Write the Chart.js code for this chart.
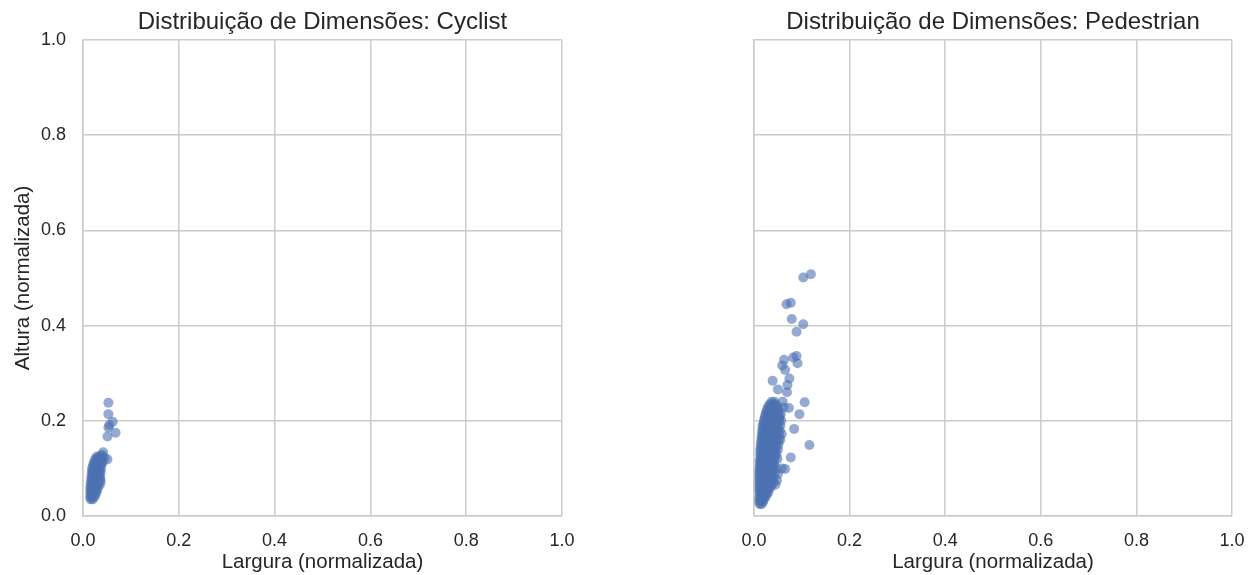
<!DOCTYPE html>
<html>
<head>
<meta charset="utf-8">
<script src="https://cdn.jsdelivr.net/npm/chart.js@4.4.0/dist/chart.umd.min.js"></script>
<style>
  html, body { margin: 0; padding: 0; background: #ffffff; }
  #wrap { position: relative; width: 1255px; height: 575px; }
  .panel { position: absolute; top: 0; }
  #left { left: 0; }
  #right { left: 670px; }
</style>
</head>
<body>
<div id="wrap">
  <div class="panel" id="left"><canvas id="c1" width="600" height="575"></canvas></div>
  <div class="panel" id="right"><canvas id="c2" width="585" height="575"></canvas></div>
</div>
<script>
// Axis ticks shared by both panels
const tickValues = [0.0, 0.2, 0.4, 0.6, 0.8, 1.0];
const classNames = ['Cyclist', 'Pedestrian'];
const xAxisLabel = 'Largura (normalizada)';
const yAxisLabel = 'Altura (normalizada)';
const titlePrefix = 'Distribuição de Dimensões: ';

// [width, height] of each normalized bounding box — Cyclist
const cyclistPoints = [
  [0.053,0.238],[0.053,0.214],[0.062,0.198],[0.055,0.191],[0.053,0.186],[0.068,0.175],[0.051,0.167],
  [0.042,0.134],[0.051,0.119],[0.040,0.128],[0.045,0.122],
  [0.016,0.035],[0.020,0.035],
  [0.015,0.040],[0.019,0.040],[0.024,0.040],
  [0.016,0.045],[0.021,0.045],[0.026,0.045],
  [0.015,0.050],[0.019,0.050],[0.023,0.050],[0.028,0.050],
  [0.016,0.055],[0.020,0.055],[0.025,0.055],[0.030,0.055],
  [0.015,0.060],[0.019,0.060],[0.024,0.060],[0.029,0.060],
  [0.017,0.065],[0.021,0.065],[0.026,0.065],[0.031,0.065],[0.035,0.065],
  [0.016,0.070],[0.020,0.070],[0.025,0.070],[0.030,0.070],[0.037,0.072],
  [0.018,0.075],[0.022,0.075],[0.027,0.075],[0.032,0.075],[0.036,0.077],
  [0.017,0.080],[0.021,0.080],[0.026,0.080],[0.031,0.080],[0.036,0.082],
  [0.019,0.085],[0.024,0.085],[0.029,0.085],[0.034,0.085],
  [0.018,0.090],[0.022,0.090],[0.027,0.090],[0.032,0.090],[0.037,0.092],
  [0.020,0.095],[0.025,0.095],[0.030,0.095],[0.035,0.095],
  [0.019,0.100],[0.023,0.100],[0.028,0.100],[0.033,0.100],[0.038,0.101],
  [0.021,0.105],[0.026,0.105],[0.031,0.105],[0.036,0.105],
  [0.022,0.110],[0.027,0.110],[0.032,0.110],[0.037,0.110],[0.041,0.112],
  [0.024,0.115],[0.029,0.115],[0.034,0.115],[0.039,0.115],
  [0.026,0.120],[0.031,0.120],[0.036,0.120],[0.040,0.121],
  [0.029,0.125],[0.034,0.125],[0.038,0.126]
];

// [width, height] of each normalized bounding box — Pedestrian
const pedestrianPoints = [
  [0.119,0.508],[0.103,0.501],[0.077,0.448],[0.068,0.445],[0.079,0.414],[0.103,0.403],[0.089,0.387],
  [0.089,0.336],[0.082,0.333],[0.091,0.321],[0.063,0.328],[0.059,0.316],[0.065,0.307],[0.074,0.289],
  [0.039,0.284],[0.070,0.275],[0.050,0.266],[0.069,0.260],[0.106,0.239],[0.095,0.214],[0.084,0.183],
  [0.116,0.149],[0.077,0.123],[0.065,0.099],[0.058,0.100],[0.060,0.240],[0.073,0.227],[0.062,0.228],
  [0.055,0.160],[0.058,0.172],[0.050,0.088],[0.048,0.075],[0.045,0.066],
  [0.012,0.025],[0.016,0.025],
  [0.011,0.030],[0.015,0.030],[0.019,0.030],
  [0.012,0.035],[0.016,0.035],[0.021,0.035],
  [0.011,0.040],[0.015,0.040],[0.019,0.040],[0.024,0.040],
  [0.013,0.045],[0.017,0.045],[0.022,0.045],[0.027,0.045],
  [0.012,0.050],[0.016,0.050],[0.020,0.050],[0.025,0.050],[0.030,0.050],
  [0.011,0.055],[0.015,0.055],[0.019,0.055],[0.024,0.055],[0.029,0.055],
  [0.012,0.060],[0.016,0.060],[0.021,0.060],[0.026,0.060],[0.031,0.060],[0.035,0.060],
  [0.011,0.065],[0.015,0.065],[0.020,0.065],[0.025,0.065],[0.030,0.065],[0.036,0.065],
  [0.012,0.070],[0.016,0.070],[0.021,0.070],[0.027,0.070],[0.033,0.070],[0.040,0.070],
  [0.011,0.075],[0.015,0.075],[0.020,0.075],[0.025,0.075],[0.031,0.075],[0.038,0.075],
  [0.012,0.080],[0.017,0.080],[0.022,0.080],[0.028,0.080],[0.034,0.080],[0.041,0.080],
  [0.011,0.085],[0.016,0.085],[0.021,0.085],[0.026,0.085],[0.032,0.085],[0.038,0.085],
  [0.012,0.090],[0.017,0.090],[0.023,0.090],[0.029,0.090],[0.035,0.090],[0.043,0.090],
  [0.011,0.095],[0.015,0.095],[0.020,0.095],[0.025,0.095],[0.031,0.095],[0.037,0.095],
  [0.012,0.100],[0.017,0.100],[0.022,0.100],[0.028,0.100],[0.034,0.100],[0.041,0.100],[0.046,0.100],
  [0.012,0.105],[0.016,0.105],[0.021,0.105],[0.027,0.105],[0.033,0.105],[0.039,0.105],
  [0.013,0.110],[0.018,0.110],[0.023,0.110],[0.029,0.110],[0.035,0.110],[0.042,0.110],
  [0.012,0.115],[0.017,0.115],[0.022,0.115],[0.028,0.115],[0.034,0.115],[0.040,0.115],
  [0.013,0.120],[0.018,0.120],[0.024,0.120],[0.030,0.120],[0.036,0.120],[0.043,0.120],[0.049,0.120],
  [0.014,0.125],[0.019,0.125],[0.025,0.125],[0.031,0.125],[0.037,0.125],[0.044,0.125],
  [0.013,0.130],[0.018,0.130],[0.023,0.130],[0.029,0.130],[0.035,0.130],[0.041,0.130],[0.047,0.130],
  [0.014,0.135],[0.020,0.135],[0.026,0.135],[0.032,0.135],[0.038,0.135],[0.045,0.135],
  [0.013,0.140],[0.019,0.140],[0.025,0.140],[0.031,0.140],[0.037,0.140],[0.043,0.140],[0.050,0.140],
  [0.015,0.145],[0.021,0.145],[0.027,0.145],[0.033,0.145],[0.039,0.145],[0.046,0.145],
  [0.014,0.150],[0.020,0.150],[0.026,0.150],[0.032,0.150],[0.038,0.150],[0.044,0.150],[0.051,0.150],
  [0.016,0.155],[0.022,0.155],[0.028,0.155],[0.034,0.155],[0.040,0.155],[0.047,0.155],
  [0.015,0.160],[0.021,0.160],[0.027,0.160],[0.033,0.160],[0.039,0.160],[0.045,0.160],[0.052,0.160],
  [0.017,0.165],[0.023,0.165],[0.029,0.165],[0.035,0.165],[0.041,0.165],[0.048,0.165],
  [0.016,0.170],[0.022,0.170],[0.028,0.170],[0.034,0.170],[0.040,0.170],[0.046,0.170],[0.053,0.170],
  [0.018,0.175],[0.024,0.175],[0.030,0.175],[0.036,0.175],[0.042,0.175],[0.049,0.175],
  [0.017,0.180],[0.023,0.180],[0.029,0.180],[0.035,0.180],[0.041,0.180],[0.047,0.180],[0.054,0.180],
  [0.019,0.185],[0.025,0.185],[0.031,0.185],[0.037,0.185],[0.043,0.185],[0.050,0.185],
  [0.018,0.190],[0.024,0.190],[0.030,0.190],[0.036,0.190],[0.042,0.190],[0.048,0.190],[0.055,0.190],
  [0.020,0.195],[0.026,0.195],[0.032,0.195],[0.038,0.195],[0.044,0.195],[0.051,0.195],
  [0.021,0.200],[0.027,0.200],[0.033,0.200],[0.039,0.200],[0.045,0.200],[0.052,0.200],[0.057,0.200],
  [0.022,0.205],[0.028,0.205],[0.034,0.205],[0.040,0.205],[0.046,0.205],[0.053,0.205],
  [0.023,0.210],[0.029,0.210],[0.035,0.210],[0.041,0.210],[0.047,0.210],[0.054,0.210],
  [0.025,0.215],[0.031,0.215],[0.037,0.215],[0.043,0.215],[0.049,0.215],[0.056,0.215],
  [0.026,0.220],[0.032,0.220],[0.038,0.220],[0.044,0.220],[0.050,0.220],
  [0.028,0.225],[0.034,0.225],[0.040,0.225],[0.046,0.225],[0.052,0.225],
  [0.030,0.230],[0.036,0.230],[0.042,0.230],[0.048,0.230],
  [0.033,0.235],[0.039,0.235],[0.045,0.235],
  [0.037,0.240],[0.043,0.240]
];

const textColor = '#262626';
const gridColor = '#cccccc';
const fontFamily = '"Liberation Sans", Arial, sans-serif';
const pointColor = 'rgba(76, 114, 176, 0.6)';

Chart.defaults.font.family = fontFamily;
Chart.defaults.color = textColor;

function setTicks(scale) {
  scale.ticks = tickValues.map(v => ({ value: v }));
}

function makePanel(canvasId, name, points, showYAxis, yAxisWidth, rightPad) {
  return new Chart(document.getElementById(canvasId), {
    type: 'scatter',
    data: {
      datasets: [{
        label: name,
        data: points.map(p => ({ x: p[0], y: p[1] })),
        backgroundColor: pointColor,
        borderWidth: 0,
        pointRadius: 5,
        pointHoverRadius: 5
      }]
    },
    options: {
      responsive: false,
      animation: false,
      layout: { padding: { left: 0, right: rightPad, top: 0, bottom: 0 } },
      plugins: {
        legend: { display: false },
        tooltip: { enabled: false },
        title: {
          display: true,
          text: titlePrefix + name,
          fullSize: false,
          color: textColor,
          font: { size: 24, weight: 'normal' },
          padding: { top: 8, bottom: 3.2 }
        }
      },
      scales: {
        x: {
          type: 'linear',
          min: 0,
          max: 1,
          afterBuildTicks: setTicks,
          afterFit: s => { s.height = 59; s.paddingLeft = 0; s.paddingRight = 0; },
          grid: { color: gridColor, lineWidth: 1.5, drawTicks: false },
          border: { color: gridColor, width: 1.5 },
          ticks: {
            padding: 14.5,
            color: textColor,
            font: { size: 18 },
            maxRotation: 0,
            autoSkip: false,
            callback: v => Number(v).toFixed(1)
          },
          title: {
            display: true,
            text: xAxisLabel,
            color: textColor,
            font: { size: 20.5 },
            padding: { top: 0, bottom: 0 }
          }
        },
        y: {
          type: 'linear',
          min: 0,
          max: 1,
          afterBuildTicks: setTicks,
          afterFit: s => { s.width = yAxisWidth; s.paddingTop = 0; s.paddingBottom = 0; },
          grid: { color: gridColor, lineWidth: 1.5, drawTicks: false },
          border: { color: gridColor, width: 1.5 },
          ticks: {
            display: showYAxis,
            padding: 17,
            color: textColor,
            font: { size: 18 },
            autoSkip: false,
            callback: v => Number(v).toFixed(1)
          },
          title: {
            display: showYAxis,
            text: yAxisLabel,
            color: textColor,
            font: { size: 20.5 },
            padding: { top: 11, bottom: 0 }
          }
        }
      }
    }
  });
}

makePanel('c1', classNames[0], cyclistPoints, true, 83, 38);
makePanel('c2', classNames[1], pedestrianPoints, false, 84, 23);
</script>
</body>
</html>
